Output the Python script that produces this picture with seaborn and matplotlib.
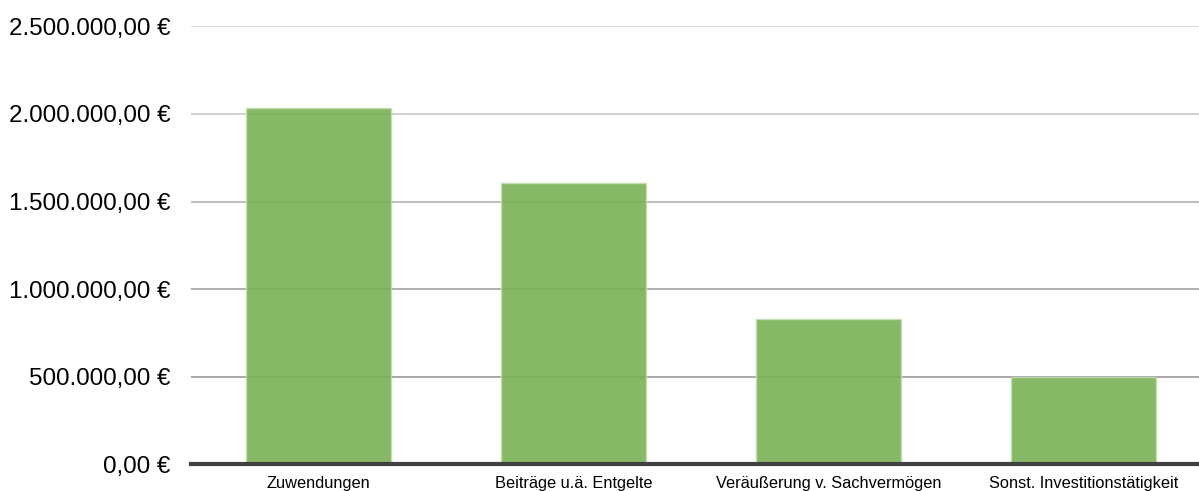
import matplotlib
matplotlib.use("Agg")
import matplotlib.pyplot as plt
import seaborn as sns
import pandas as pd

categories = ["Zuwendungen", "Beiträge u.ä. Entgelte", "Veräußerung v. Sachvermögen", "Sonst. Investitionstätigkeit"]
values = [2032000, 1606000, 831000, 497000]
yticks = [0, 500000, 1000000, 1500000, 2000000, 2500000]
ytick_labels = ["0,00 €", "500.000,00 €", "1.000.000,00 €", "1.500.000,00 €", "2.000.000,00 €", "2.500.000,00 €"]
grid_colors = ["#a0a0a0", "#a8a8a8", "#b8b8b8", "#cccccc", "#dadada"]

sns.set_theme(style="white")
plt.rcParams['font.family'] = ['Liberation Sans', 'DejaVu Sans']

df = pd.DataFrame({"cat": categories, "val": values})

fig = plt.figure(figsize=(11.99, 4.91), dpi=100)
ax = fig.add_axes([191 / 1199, 0.0544, 1020 / 1199, 0.892])

for yv, c in zip(yticks[1:], grid_colors):
    ax.axhline(yv, color=c, linewidth=1.3, zorder=0)

sns.barplot(data=df, x="cat", y="val", color="#79b155", alpha=0.9, width=0.566,
            edgecolor="#c2dfb0", linewidth=1.0, saturation=1, ax=ax, zorder=2)

ax.set_xlim(-0.5, 3.5)
ax.set_ylim(0, 2500000)
ax.set_yticks(yticks)
ax.set_yticklabels(ytick_labels, fontsize=17.4, color="#000000")
ax.tick_params(axis="y", length=0, pad=15)
ax.tick_params(axis="x", length=0, pad=8.5, labelsize=11.8, labelcolor="#000000")
ax.set_xlabel("")
ax.set_ylabel("")
for s in ["top", "right", "left"]:
    ax.spines[s].set_visible(False)
ax.spines["bottom"].set_color("#404040")
ax.spines["bottom"].set_linewidth(3)
ax.spines["bottom"].set_zorder(5)

fig.savefig("out.png", dpi=100)
